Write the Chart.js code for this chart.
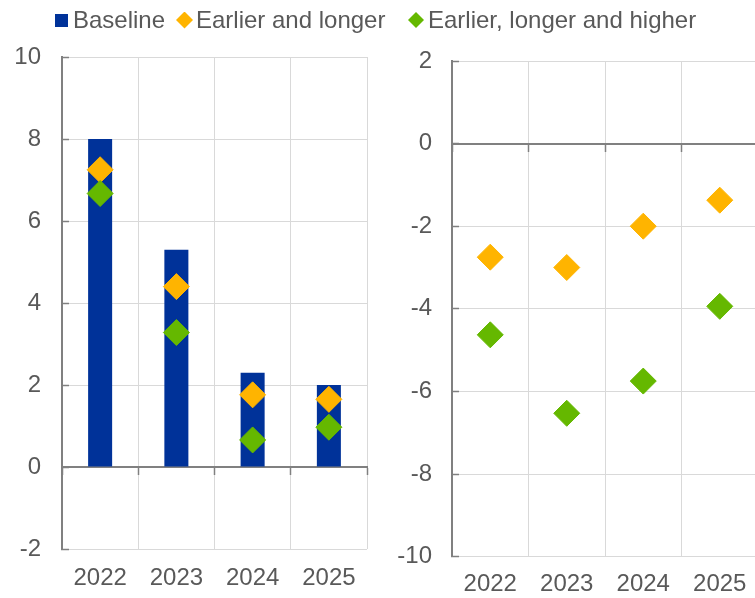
<!DOCTYPE html>
<html>
<head>
<meta charset="utf-8">
<script src="https://cdn.jsdelivr.net/npm/chart.js@4.4.1/dist/chart.umd.min.js"></script>
<style>
  html, body { margin: 0; padding: 0; background: #ffffff; }
  body { width: 755px; height: 598px; overflow: hidden; position: relative; font-family: 'Liberation Sans', Arial, sans-serif; }
  canvas { position: absolute; top: 0; }
  #cL { left: 0; }
  #cR { left: 380px; }
  .legend-item { position: absolute; top: 8px; height: 24px; line-height: 24px; display: flex; align-items: center;
    font-size: 24px; color: #595959; white-space: nowrap; z-index: 2; }
  .sq { width: 13px; height: 13px; margin-right: 5px; }
  .dia { width: 17px; height: 17px; clip-path: polygon(50% 0, 100% 50%, 50% 100%, 0 50%); }
</style>
</head>
<body>
<canvas id="cL" width="381" height="598"></canvas>
<canvas id="cR" width="392" height="598"></canvas>
<div class="legend-item" style="left:55px"><span class="sq" style="background:#003299"></span><span id="lg0"></span></div>
<div class="legend-item" style="left:176px"><span class="dia" style="background:#FFB400;margin-right:3px"></span><span id="lg1"></span></div>
<div class="legend-item" style="left:408px"><span class="dia" style="background:#65B800;width:16px;height:16px;margin-right:4px"></span><span id="lg2"></span></div>
<script>
// ---- Data ----
const categories = ['2022', '2023', '2024', '2025'];
const seriesNames = ['Baseline', 'Earlier and longer', 'Earlier, longer and higher'];

// Left panel
const leftBaseline = [8.0, 5.3, 2.3, 2.0];
const leftEarlierLonger = [7.25, 4.4, 1.76, 1.65];
const leftEarlierLongerHigher = [6.67, 3.28, 0.66, 0.97];
const leftYTicks = [-2, 0, 2, 4, 6, 8, 10];

// Right panel
const rightEarlierLonger = [-2.75, -3.0, -2.0, -1.37];
const rightEarlierLongerHigher = [-4.63, -6.53, -5.75, -3.94];
const rightYTicks = [-10, -8, -6, -4, -2, 0, 2];

// ---- Styles ----
const BLUE = '#003299', ORANGE = '#FFB400', GREEN = '#65B800';
const GRID = '#D9D9D9', AXIS = '#808080', TEXT = '#595959';
const FONT = { family: "'Liberation Sans', Arial, sans-serif", size: 24 };

document.getElementById('lg0').textContent = seriesNames[0];
document.getElementById('lg1').textContent = seriesNames[1];
document.getElementById('lg2').textContent = seriesNames[2];

function diamonds(label, data, color, order) {
  return {
    type: 'line', label, data, showLine: false, order,
    pointStyle: 'rectRot', pointRadius: 13, pointHoverRadius: 13, pointBorderWidth: 1,
    backgroundColor: color, borderColor: color, pointBackgroundColor: color, pointBorderColor: color,
    xAxisID: 'x', yAxisID: 'y'
  };
}

function buildOptions(p) {
  return {
    responsive: false, animation: false,
    layout: { padding: { top: p.top, right: p.right, bottom: 0, left: 0 } },
    plugins: { legend: { display: false }, tooltip: { enabled: false } },
    scales: {
      x: {
        type: 'category', position: 'bottom', offset: true,
        grid: { offset: true, color: GRID, lineWidth: 1, drawTicks: true, tickLength: p.labelGap, tickColor: 'rgba(0,0,0,0)' },
        border: { display: false },
        ticks: { color: TEXT, font: FONT, padding: 0, maxRotation: 0, autoSkip: false },
        afterFit: s => { s.height = p.xHeight; }
      },
      x0: {
        type: 'category', position: { y: 0 }, offset: true, z: 1,
        grid: { offset: true, drawOnChartArea: false, drawTicks: true, tickLength: 7, tickColor: AXIS, tickWidth: 1.5 },
        border: { color: AXIS, width: 2 },
        ticks: { display: false }
      },
      y: {
        min: p.ticks[0], max: p.ticks[p.ticks.length - 1],
        afterBuildTicks: s => { s.ticks = p.ticks.map(v => ({ value: v })); },
        ticks: { color: TEXT, font: FONT, padding: p.yPad },
        grid: { color: GRID, lineWidth: 1, drawTicks: true, tickLength: -7, tickColor: AXIS, tickWidth: 1.5 },
        border: { color: AXIS, width: 2 },
        afterFit: s => { s.width = p.yWidth; }
      }
    }
  };
}

new Chart(document.getElementById('cL'), {
  type: 'bar',
  data: {
    labels: categories,
    datasets: [
      diamonds(seriesNames[2], leftEarlierLongerHigher, GREEN, 0),
      diamonds(seriesNames[1], leftEarlierLonger, ORANGE, 1),
      { type: 'bar', label: seriesNames[0], data: leftBaseline, backgroundColor: BLUE, borderWidth: 0,
        categoryPercentage: 1, barPercentage: 0.315, order: 2, xAxisID: 'x', yAxisID: 'y' }
    ]
  },
  options: buildOptions({ top: 57, right: 14, xHeight: 49, labelGap: 15, yPad: 28, yWidth: 62, ticks: leftYTicks })
});

new Chart(document.getElementById('cR'), {
  type: 'bar',
  data: {
    labels: categories,
    datasets: [
      diamonds(seriesNames[2], rightEarlierLongerHigher, GREEN, 0),
      diamonds(seriesNames[1], rightEarlierLonger, ORANGE, 1)
    ]
  },
  options: buildOptions({ top: 61, right: 14, xHeight: 39, labelGap: 13, yPad: 27, yWidth: 72, ticks: rightYTicks })
});
</script>
</body>
</html>
